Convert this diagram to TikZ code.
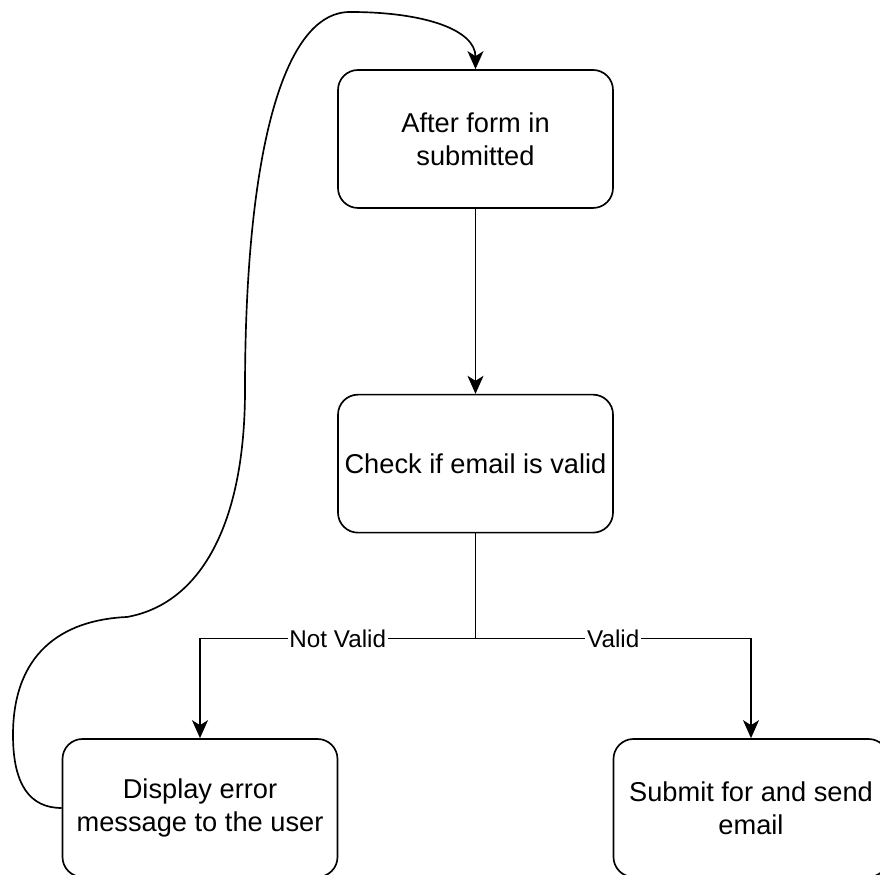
\documentclass[tikz,border=0pt]{standalone}
\usepackage{fontspec}
\setmainfont{Liberation Sans}
\usepackage{tikz}
\usetikzlibrary{arrows.meta,positioning}

\begin{document}
\begin{tikzpicture}[
                font=\fontsize{15.5}{18.8}\selectfont,
                line width=0.95pt,
                step box/.style={draw, rounded corners=0.4cm, align=center, minimum width=5.5cm, minimum height=2.76cm},
                lbl/.style={fill=white, inner sep=1pt, font=\fontsize{13.8}{16}\selectfont},
                flow/.style={-{Stealth[length=3.6mm, width=3.2mm, inset=1mm]}}
            ]
            \useasboundingbox (0,0) rectangle (17.6,17.5);
            \node[step box] (start) at (9.51,14.72) {After form in\\submitted};
            \node[step box, below=3.7cm of start] (check) {Check if email is valid};
            \node[step box] (err) at (4.0,1.34) {Display error\\message to the user};
            \node[step box] (send) at (15.02,1.34) {Submit for and send\\email};
            \coordinate[below=2.1cm of check.south] (split);
            \draw[flow] (start) -- (check);
            \draw (check.south) -- (split);
            \draw[flow] (split) -| node[lbl, pos=0.25] {Not Valid} (err.north);
            \draw[flow] (split) -| node[lbl, pos=0.25] {Valid} (send.north);
            % back to the start
            \draw[flow] (err.west) .. controls (0.6,1.34) and (0.26,1.8) .. (0.26,2.8)
                .. controls (0.26,4.4) and (1.2,5.1) .. (2.54,5.16)
                .. controls (4.0,5.42) and (4.9,7.0) .. (4.9,9.7)
                .. controls (4.9,14.2) and (5.6,17.26) .. (7.0,17.26)
                .. controls (8.5,17.26) and (9.51,16.9) .. (start.north);
        \end{tikzpicture}
\end{document}
